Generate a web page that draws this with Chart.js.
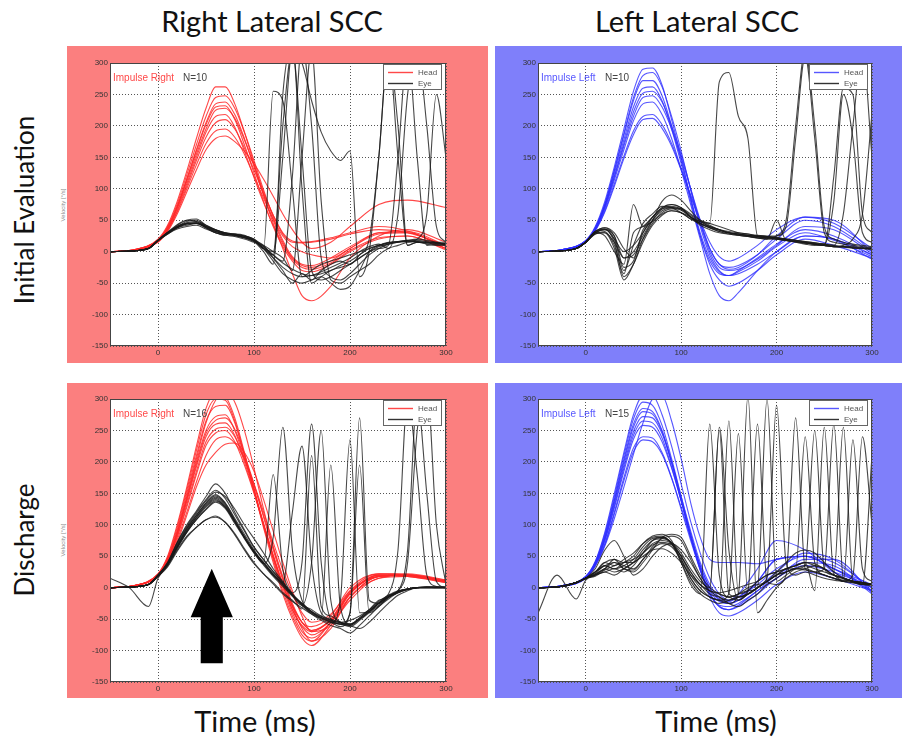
<!DOCTYPE html>
<html>
<head>
<meta charset="utf-8">
<script src="https://cdn.jsdelivr.net/npm/chart.js@4.4.0/dist/chart.umd.min.js"></script>
<style>
  body { margin: 0; background: #fff; }
  #page { position: relative; width: 902px; height: 739px; overflow: hidden; background: #fff; }
  .bg { position: absolute; }
  .red { background: #fb7f7f; }
  .blue { background: #7f7ffa; }
  canvas { position: absolute; }
  .title { position: absolute; font-family: Lato, "Open Sans", sans-serif; font-size: 29px; color: #111; text-align: center; white-space: nowrap; }
  .rot { position: absolute; transform: translate(-50%, -50%) rotate(-90deg); font-family: Lato, "Open Sans", sans-serif; font-size: 26px; color: #111; white-space: nowrap; }
  .vel { position: absolute; transform: translate(-50%, -50%) rotate(-90deg); font-family: "Liberation Sans", Arial, sans-serif; font-size: 6px; color: #888; white-space: nowrap; }
</style>
</head>
<body>
<div id="page">
  <div class="bg red" style="left:67px;top:46px;width:421px;height:317px"></div>
  <div class="bg blue" style="left:495px;top:46px;width:407px;height:317px"></div>
  <div class="bg red" style="left:67px;top:383px;width:421px;height:315px"></div>
  <div class="bg blue" style="left:495px;top:383px;width:407px;height:315px"></div>

  <canvas id="rightInit" width="421" height="317" style="left:67px;top:46px"></canvas>
  <canvas id="leftInit" width="407" height="317" style="left:495px;top:46px"></canvas>
  <canvas id="rightDis" width="421" height="315" style="left:67px;top:383px"></canvas>
  <canvas id="leftDis" width="407" height="315" style="left:495px;top:383px"></canvas>

  <div class="title" style="left:72px;width:400px;top:3px">Right Lateral SCC</div>
  <div class="title" style="left:497px;width:400px;top:3px">Left Lateral SCC</div>
  <div class="rot" style="left:24px;top:210px">Initial Evaluation</div>
  <div class="rot" style="left:24px;top:540px">Discharge</div>
  <div class="title" style="left:55px;width:400px;top:703px">Time (ms)</div>
  <div class="title" style="left:516px;width:400px;top:703px">Time (ms)</div>
  <div class="vel" style="left:63px;top:205px">Velocity [°/s]</div>
  <div class="vel" style="left:63px;top:540px">Velocity [°/s]</div>
</div>

<script>
// time samples (ms)
const tHead = [-50,-25,0,10,20,30,40,50,60,70,80,90,100,110,120,130,140,150,160,180,200,230,260,300];
const tEye = [-50,-30,-10,0,10,20,30,40,50,60,70,80,90,100,110,120,130,140,150,160,170,180,190,200,210,220,230,240,250,260,270,280,290,300];
const xTicks = [0,100,200,300];
const yTicks = [-150,-100,-50,0,50,100,150,200,250,300];

// Right lateral SCC, initial evaluation
const rightInitHead = [
  [0,3,20,42,80,128,180,228,262,262,235,190,140,90,45,5,-35,-70,-78,-55,-10,25,35,15],
  [0,3,19,40,76,122,170,215,245,248,228,190,145,98,55,18,-8,-20,-22,-10,8,30,32,10],
  [0,3,18,38,72,116,162,205,235,238,218,180,135,90,50,15,-10,-22,-25,-15,5,28,30,5],
  [0,3,18,38,72,115,160,202,230,232,210,170,125,80,40,8,-15,-30,-32,-20,0,20,25,3],
  [0,2,17,36,70,112,155,195,225,228,212,178,138,95,58,28,15,14,15,20,28,35,30,10],
  [0,2,17,36,68,108,150,190,215,218,198,160,118,78,42,12,-12,-25,-28,-18,2,22,25,5],
  [0,2,16,34,65,104,145,182,205,210,195,165,130,92,58,30,17,15,16,22,30,40,33,8],
  [0,2,16,34,63,100,138,172,192,195,182,155,120,85,52,25,8,0,-5,-10,5,30,30,5],
  [0,2,15,32,60,95,130,162,180,184,175,160,140,115,88,60,35,15,5,15,40,75,82,70]
];
const rightInitEye = [
  [0,1,5,18,30,40,48,50,40,33,28,27,25,20,8,-6,-18,-28,-35,-38,-35,-30,-22,-15,-5,5,10,14,16,17,16,15,14,13],
  [0,1,5,17,28,38,45,46,38,30,26,28,26,18,5,255,240,100,-40,-30,-20,-15,-10,-5,0,5,10,14,16,18,18,16,14,12],
  [0,1,5,18,30,42,50,52,42,35,30,28,24,18,5,-5,150,320,150,-30,-45,-40,-30,-20,-10,0,8,12,15,16,15,14,13,12],
  [0,1,5,18,29,39,44,45,40,35,30,26,22,16,8,-5,-15,120,330,200,-10,-40,-45,-35,-20,-5,5,12,15,18,20,18,15,12],
  [0,1,5,18,30,38,42,45,38,30,27,25,22,18,5,0,200,320,300,240,190,160,145,160,-40,0,150,320,200,10,15,12,10,10],
  [0,1,5,18,31,43,50,48,40,32,28,26,22,16,0,-20,250,330,100,-50,-40,-30,-25,-20,-10,0,5,10,150,320,150,10,12,12],
  [0,1,5,18,28,36,40,42,36,30,26,24,20,15,10,0,-10,-30,150,320,80,-45,-50,-40,-30,-20,-5,5,10,15,20,60,250,150],
  [0,1,5,18,30,40,46,48,42,35,30,28,25,20,5,-15,-35,-45,-50,-45,-40,-50,-60,-55,-30,0,10,15,16,17,16,15,15,15],
  [0,1,5,18,29,38,44,45,38,32,28,26,23,18,10,-10,-30,-50,-35,-45,-30,-20,-15,-20,-5,20,150,320,150,10,15,14,12,12],
  [0,1,5,18,30,40,45,46,40,34,29,27,24,18,5,-10,-25,-35,-40,-38,-32,-25,-18,-10,0,8,12,5,60,250,320,200,40,15]
];

// Left lateral SCC, initial evaluation
const leftInitHead = [
  [0,3,18,40,80,135,195,255,290,292,265,210,150,85,25,-20,-45,-55,-50,-30,-5,20,10,-10],
  [0,3,17,38,76,130,188,245,280,285,262,215,160,98,40,-5,-30,-38,-35,-20,0,25,20,-5],
  [0,3,17,38,75,128,185,240,272,272,248,200,145,85,30,-10,-32,-38,-32,-15,8,30,18,-8],
  [0,3,17,37,73,124,178,230,260,262,240,195,140,80,25,-15,-35,-38,-30,-10,12,35,25,-5],
  [0,3,16,36,72,120,172,222,252,255,238,200,155,100,45,0,-25,-30,-28,-12,10,40,35,-3],
  [0,3,16,36,70,118,168,215,245,248,230,195,150,100,50,5,-20,-25,-22,-5,20,50,40,0],
  [0,2,16,35,68,114,162,208,235,238,218,180,130,75,20,-35,-70,-78,-65,-30,0,25,20,-12],
  [0,2,15,34,65,108,152,192,215,218,202,172,132,88,45,5,-20,-28,-25,-5,25,55,50,0],
  [0,2,15,33,63,104,148,186,210,212,196,168,130,90,50,15,-8,-15,-10,10,35,55,45,5]
];
const leftInitEye = [
  [0,1,5,15,32,38,25,-10,-5,20,45,62,68,68,55,42,35,30,28,26,24,22,22,20,18,16,14,12,10,8,7,6,5,4],
  [0,1,5,15,30,36,15,-40,-20,15,42,58,65,62,52,48,45,270,285,215,180,25,22,20,18,16,14,12,10,8,8,6,5,4],
  [0,1,5,15,28,32,10,-35,30,40,55,70,75,70,55,45,38,32,28,26,25,24,22,25,50,200,320,200,40,20,15,12,10,8],
  [0,1,5,15,30,25,0,-20,75,40,55,68,70,68,58,48,40,35,30,28,26,24,22,22,20,18,15,12,10,8,8,6,6,5],
  [0,1,5,15,30,30,5,-45,-20,20,50,80,90,82,65,50,42,35,30,26,24,22,20,20,18,16,14,12,12,80,250,180,30,15],
  [0,1,5,15,32,36,20,0,10,30,55,70,75,70,60,50,45,40,35,30,28,25,24,22,20,18,16,14,12,10,60,200,320,150],
  [0,1,5,15,28,30,15,-10,0,25,50,65,70,66,55,45,40,35,30,28,25,22,20,50,18,16,14,12,10,8,10,20,60,220],
  [0,1,5,15,30,35,25,-25,-15,30,50,68,72,68,55,48,40,35,32,30,28,26,25,25,40,180,310,180,30,15,12,10,8,6],
  [0,1,5,15,32,38,30,5,-10,35,48,60,65,62,55,45,38,32,30,28,26,25,24,22,18,15,12,10,10,120,260,250,60,30],
  [0,1,5,15,30,35,20,-30,10,45,60,72,70,62,52,44,38,34,30,28,26,25,24,22,20,18,16,14,12,10,8,8,6,5]
];

// Right lateral SCC, discharge
const rightDisHead = [
  [0,3,22,50,100,160,225,285,312,305,270,215,155,95,40,-10,-50,-80,-92,-60,-20,15,18,10],
  [0,3,22,48,96,155,218,275,300,298,265,212,155,98,45,-5,-45,-75,-85,-55,-15,18,20,10],
  [0,3,21,46,92,150,210,265,288,290,262,210,158,100,48,0,-40,-70,-80,-55,-10,20,20,10],
  [0,3,20,45,88,142,200,250,272,275,250,205,155,102,52,5,-35,-62,-75,-55,-10,20,18,8],
  [0,3,20,44,86,140,196,245,266,270,252,212,165,112,60,12,-28,-55,-68,-50,-8,18,20,10],
  [0,3,20,44,85,137,192,240,260,262,242,200,152,100,50,5,-35,-60,-70,-50,-5,22,20,8],
  [0,3,19,42,82,132,185,232,252,255,240,205,162,115,65,18,-25,-55,-68,-52,-8,20,18,10],
  [0,3,19,42,80,128,180,226,246,250,232,195,150,100,50,5,-30,-55,-62,-45,0,22,22,12],
  [0,3,18,38,72,115,160,195,215,228,230,215,185,140,90,40,-5,-45,-70,-60,-15,18,20,12],
  [0,3,18,40,76,120,168,210,235,240,230,205,165,120,72,28,-10,-40,-55,-42,-5,18,20,10],
  [0,3,20,44,88,145,205,262,298,312,295,250,190,125,65,15,-30,-65,-85,-65,-15,15,20,10]
];
const rightDisEye = [
  [0,1,5,20,40,72,100,122,145,165,150,120,92,65,45,25,8,-12,-28,-42,-52,-60,-65,-72,-60,-45,-30,-18,-8,-3,0,0,0,0],
  [0,1,5,20,38,68,94,115,135,148,135,110,85,60,40,180,30,-10,-25,-38,-48,-55,-58,-60,-50,-38,-25,-15,-8,-3,0,0,0,0],
  [0,1,5,19,36,65,90,110,128,140,128,105,80,56,38,80,255,60,-20,-35,-45,-52,-56,-58,-48,-35,-22,-12,-5,-2,0,0,0,0],
  [0,1,5,20,37,66,92,112,130,142,130,106,80,58,40,22,8,120,225,40,-40,-50,-55,-58,-48,-36,-24,-14,-6,-2,0,1,1,1],
  [0,1,5,20,38,70,96,118,138,152,145,125,100,78,55,30,10,-8,40,260,40,-50,-58,-62,-52,-40,-28,-16,-8,-3,0,1,1,1],
  [0,1,5,19,37,64,88,108,124,136,126,102,78,55,36,18,2,-14,-28,40,250,-20,-55,-60,-50,-38,-25,-14,-6,-2,0,1,1,0],
  [0,1,5,18,33,58,80,96,108,112,104,86,62,40,22,6,-10,-22,-32,-42,-48,195,-30,-58,-50,-38,-25,-14,-6,-2,0,1,0,0],
  [0,1,5,20,40,72,98,120,140,155,142,116,90,64,44,26,8,-10,-25,-38,-48,-55,-62,-40,270,-20,-25,-15,-6,-2,0,1,1,1],
  [0,1,5,19,38,66,94,115,134,146,134,108,82,58,40,22,6,-12,-28,-40,-50,-56,-20,235,-40,-38,-25,-12,-5,60,300,150,10,0],
  [0,1,5,18,36,62,88,108,125,138,128,104,80,56,38,20,4,-12,-26,-38,-46,-52,-55,-52,-45,-35,-20,-10,60,300,180,20,2,0],
  [0,1,5,19,37,64,90,112,132,144,132,106,80,57,38,20,5,-12,-27,-40,-48,-54,-58,-40,195,-40,-30,-15,-5,40,250,320,100,5],
  [15,0,-30,15,35,60,82,96,108,114,104,84,60,38,22,8,-8,-20,-34,210,-30,-45,-55,-60,-65,-55,-40,-25,-12,-5,0,0,0,0]
];

// Left lateral SCC, discharge
const leftDisHead = [
  [0,3,18,42,88,150,215,275,305,305,275,225,165,105,55,15,-10,-20,-15,10,45,50,30,5],
  [0,3,18,40,85,145,210,268,295,290,258,205,145,85,30,-15,-40,-45,-40,-20,5,25,15,-5],
  [0,3,17,40,82,140,204,260,285,280,250,200,140,80,28,-10,-30,-35,-30,-10,15,35,25,0],
  [0,3,17,39,80,138,200,255,280,276,248,198,140,82,30,-5,-22,-25,-20,10,45,50,30,-5],
  [0,3,17,38,78,134,195,248,272,270,245,200,145,90,40,5,-15,-20,-10,30,75,60,25,-5],
  [0,3,16,38,76,130,190,242,265,262,238,192,138,80,30,-8,-28,-30,-25,-5,20,40,35,-10],
  [0,3,16,37,74,127,185,236,258,255,232,190,138,85,35,0,-18,-22,-15,5,30,50,40,0],
  [0,2,16,36,70,120,175,222,240,238,215,175,125,75,28,-10,-30,-35,-28,-5,15,45,45,-8],
  [0,2,15,35,68,117,170,216,235,232,212,174,128,80,35,0,-20,-25,-20,0,25,55,45,-5],
  [0,2,15,34,66,110,160,212,262,300,305,265,205,135,80,45,40,40,40,38,45,50,30,0]
];
const leftDisEye = [
  [0,1,8,15,25,35,40,30,25,40,60,80,85,80,50,20,0,-10,-15,-20,-10,0,10,20,30,35,40,35,30,20,15,10,8,5],
  [-40,20,-18,12,20,30,40,35,30,45,65,78,82,75,45,15,-5,-15,-25,-30,-20,-10,5,15,25,30,28,25,20,15,10,8,5,5],
  [0,1,8,15,30,60,75,50,20,30,50,65,70,60,40,15,-5,255,60,-20,-10,0,10,20,25,30,30,25,20,15,12,10,8,5],
  [0,1,8,15,22,35,30,40,50,70,82,85,75,40,5,-10,260,20,-15,-10,0,5,15,290,40,20,25,20,15,12,10,8,6,5],
  [0,1,8,15,25,40,35,45,55,70,80,82,70,45,15,-5,-15,-20,265,-10,-5,10,20,25,30,35,40,-5,255,20,15,10,8,5],
  [0,1,8,15,20,25,30,25,35,55,75,80,72,50,20,0,-15,-20,-25,-10,305,-40,-20,0,15,25,30,35,30,20,255,10,8,5],
  [0,1,8,15,22,30,45,30,28,45,62,70,65,45,15,-5,-15,-20,-10,245,-10,0,10,20,30,30,240,40,20,15,10,20,240,100],
  [0,1,8,15,25,35,30,35,45,65,78,80,70,40,10,-10,-20,-25,-20,-15,-5,260,10,5,20,270,30,25,30,260,15,10,8,5],
  [0,1,8,15,18,28,35,40,45,55,68,72,68,50,25,5,-5,-10,-15,-10,-5,0,300,10,20,30,35,30,25,20,10,235,30,10],
  [0,1,8,15,20,30,25,30,40,60,75,78,72,55,30,10,0,250,-10,-15,-10,0,10,20,25,30,35,250,30,20,15,10,5,210],
  [0,1,8,15,20,25,20,30,40,50,60,62,55,40,20,5,-10,-15,-20,-15,-10,0,10,25,40,55,60,55,40,25,15,10,5,3],
  [0,1,8,15,25,40,45,40,40,55,70,75,70,50,25,5,-5,-8,-5,0,5,10,20,25,30,35,40,38,30,20,15,10,5,5]
];

const RED = "rgba(255,40,40,0.85)";
const BLUE = "rgba(45,45,255,0.8)";
const EYE = "rgba(25,25,25,0.8)";

// white plot area, frame, impulse label, legend and arrow
const panelDecor = {
  id: "panelDecor",
  beforeDraw(chart) {
    const { ctx, chartArea: a } = chart;
    ctx.save();
    ctx.fillStyle = "#fff";
    ctx.fillRect(a.left, a.top, a.right - a.left, a.bottom - a.top);
    ctx.restore();
  },
  afterDatasetsDraw(chart, args, opts) {
    const { ctx, chartArea: a, scales } = chart;
    ctx.save();
    if (opts.arrow) {
      const ar = opts.arrow;
      const cx = scales.x.getPixelForValue(ar.x);
      const tip = scales.y.getPixelForValue(ar.tip);
      const neck = scales.y.getPixelForValue(ar.neck);
      const base = scales.y.getPixelForValue(ar.base);
      const hw = scales.x.getPixelForValue(ar.x + ar.headHalf) - cx;
      const sw = scales.x.getPixelForValue(ar.x + ar.shaftHalf) - cx;
      ctx.fillStyle = "#000";
      ctx.beginPath();
      ctx.moveTo(cx, tip);
      ctx.lineTo(cx + hw, neck);
      ctx.lineTo(cx + sw, neck);
      ctx.lineTo(cx + sw, base);
      ctx.lineTo(cx - sw, base);
      ctx.lineTo(cx - sw, neck);
      ctx.lineTo(cx - hw, neck);
      ctx.closePath();
      ctx.fill();
    }
    ctx.strokeStyle = "#444";
    ctx.lineWidth = 1;
    ctx.strokeRect(a.left + 0.5, a.top + 0.5, a.right - a.left - 1, a.bottom - a.top - 1);

    ctx.font = '10px "Liberation Sans", Arial, sans-serif';
    ctx.textBaseline = "middle";
    ctx.fillStyle = opts.color;
    ctx.fillText(opts.label, a.left + 3, a.top + 15);
    ctx.fillStyle = "#444";
    ctx.fillText("N=" + opts.n, a.left + opts.nDx, a.top + 15);

    // legend box
    const bx = a.right - 63, by = a.top + 1, bw = 58, bh = 25;
    ctx.fillStyle = "#fff";
    ctx.fillRect(bx, by, bw, bh);
    ctx.strokeStyle = "#666";
    ctx.strokeRect(bx + 0.5, by + 0.5, bw, bh);
    ctx.lineWidth = 1.4;
    ctx.strokeStyle = opts.color;
    ctx.beginPath(); ctx.moveTo(bx + 5, by + 8.5); ctx.lineTo(bx + 30, by + 8.5); ctx.stroke();
    ctx.strokeStyle = "#333";
    ctx.beginPath(); ctx.moveTo(bx + 5, by + 19.5); ctx.lineTo(bx + 30, by + 19.5); ctx.stroke();
    ctx.font = '8px "Liberation Sans", Arial, sans-serif';
    ctx.fillStyle = "#555";
    ctx.fillText("Head", bx + 35, by + 8.5);
    ctx.fillText("Eye", bx + 35, by + 19.5);
    ctx.restore();
  }
};

function toPoints(times, vals) {
  return times.map((t, i) => ({ x: t, y: vals[i] }));
}

function makePanel(id, heads, eyes, color, label, n, padRight, axisH, topPad, extra) {
  const canvas = document.getElementById(id);
  const datasets = [];
  eyes.forEach(v => datasets.push({
    data: toPoints(tEye, v), borderColor: EYE, borderWidth: 1.1,
    pointRadius: 0, cubicInterpolationMode: "monotone"
  }));
  heads.forEach(v => datasets.push({
    data: toPoints(tHead, v), borderColor: color, borderWidth: 1.1,
    pointRadius: 0, cubicInterpolationMode: "monotone"
  }));

  const tickFont = { size: 8, family: '"Liberation Sans", Arial, sans-serif' };
  new Chart(canvas, {
    type: "line",
    data: { datasets },
    options: {
      responsive: false,
      animation: false,
      devicePixelRatio: 1,
      layout: { padding: { left: 0, top: topPad, right: padRight, bottom: 0 } },
      scales: {
        x: {
          type: "linear", min: -50, max: 300,
          afterBuildTicks: s => { s.ticks = xTicks.map(v => ({ value: v })); },
          afterFit: s => { s.height = axisH; },
          ticks: { font: tickFont, color: "#333", padding: 2, maxRotation: 0 },
          grid: { color: "#555", drawTicks: false },
          border: { display: false, dash: [1, 2] }
        },
        y: {
          type: "linear", min: -150, max: 300,
          afterBuildTicks: s => { s.ticks = yTicks.map(v => ({ value: v })); },
          afterFit: s => { s.width = 43; },
          ticks: { font: tickFont, color: "#333", padding: 2 },
          grid: { color: "#555", drawTicks: false },
          border: { display: false, dash: [1, 2] }
        }
      },
      plugins: {
        legend: { display: false },
        tooltip: { enabled: false },
        panelDecor: Object.assign({ color, label, n, nDx: label === "Impulse Right" ? 73 : 67 }, extra || {})
      }
    },
    plugins: [panelDecor]
  });
}

makePanel("rightInit", rightInitHead, rightInitEye, RED, "Impulse Right", 10, 42, 17, 17);
makePanel("leftInit", leftInitHead, leftInitEye, BLUE, "Impulse Left", 10, 30, 17, 17);
makePanel("rightDis", rightDisHead, rightDisEye, RED, "Impulse Right", 16, 42, 16, 16,
  { arrow: { x: 56, tip: 30, neck: -47, base: -120, headHalf: 22, shaftHalf: 11.5 } });
makePanel("leftDis", leftDisHead, leftDisEye, BLUE, "Impulse Left", 15, 30, 16, 16);
</script>
</body>
</html>
